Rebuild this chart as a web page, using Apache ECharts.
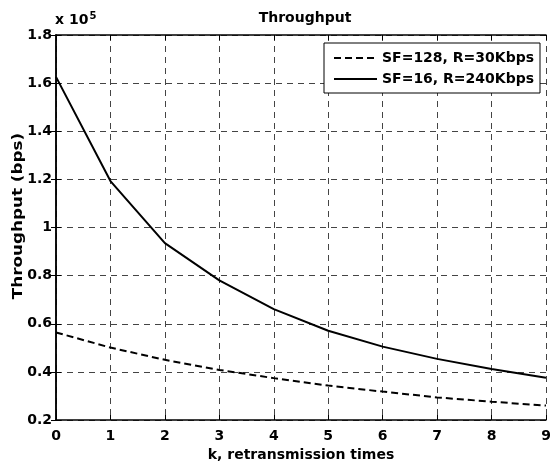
<!DOCTYPE html>
<html><head><meta charset="utf-8">
<script src="https://cdn.jsdelivr.net/npm/echarts@6/dist/echarts.min.js"></script>
<style>html,body{margin:0;padding:0;background:#fff}#c{width:550px;height:463px}</style>
</head><body><div id="c"></div>
<script>
const kValues = [0,1,2,3,4,5,6,7,8,9];
const sf128 = [56400,50100,45000,40800,37400,34300,31800,29400,27600,26000];
const sf16 = [162600,119300,93500,78000,66100,57100,50500,45400,41200,37600];
const seriesNames = ['SF=128, R=30Kbps','SF=16, R=240Kbps'];
const yTicks = [20000,40000,60000,80000,100000,120000,140000,160000,180000];

const FONT = '"DejaVu Sans", sans-serif';
const chart = echarts.init(document.getElementById('c'));
const pair = (arr) => kValues.map((k,i)=>[k,arr[i]]);
const gridX = {type:[6,5], color:'#444', width:1};
chart.setOption({
  animation:false,
  backgroundColor:'#fff',
  title:{text:'Throughput', left:300, top:6, textAlign:'center',
    textStyle:{fontFamily:FONT, fontWeight:'bold', fontSize:14, color:'#000'}},
  grid:{left:56, right:4, top:35, bottom:43, outerBoundsMode:'none', containLabel:false},
  legend:{
    orient:'vertical', left:324, top:43, padding:[8,6,7,9], itemGap:7,
    itemWidth:43, itemHeight:14, borderColor:'#000', borderWidth:1, backgroundColor:'#fff',
    itemStyle:{opacity:0},
    textStyle:{fontFamily:FONT, fontWeight:'bold', fontSize:14, color:'#000'},
    data:seriesNames
  },
  xAxis:[{
    type:'value', min:0, max:9, interval:1,
    name:'k, retransmission times', nameLocation:'middle', nameGap:27,
    nameTextStyle:{fontFamily:FONT, fontWeight:'bold', fontSize:14, color:'#000'},
    axisLine:{lineStyle:{color:'#000', width:1.5}},
    axisTick:{inside:true, length:5, lineStyle:{color:'#000'}},
    axisLabel:{fontFamily:FONT, fontWeight:'bold', fontSize:14, color:'#000', margin:9},
    splitLine:{show:true, lineStyle:gridX}
  },{
    type:'value', min:0, max:9, interval:1, position:'top',
    axisLine:{lineStyle:{color:'#000', width:1.5}},
    axisTick:{inside:true, length:5, lineStyle:{color:'#000'}},
    axisLabel:{show:false}, splitLine:{show:false}
  }],
  yAxis:[{
    type:'value', min:20000, max:180000, interval:20000,
    axisLine:{show:true, lineStyle:{color:'#000', width:1.5}},
    axisTick:{show:true, inside:true, length:5, lineStyle:{color:'#000'}},
    axisLabel:{fontFamily:FONT, fontWeight:'bold', fontSize:14, color:'#000', margin:4,
      formatter:(v)=>String(+(v/1e5).toFixed(1))},
    splitLine:{show:true, lineStyle:gridX}
  },{
    type:'value', min:20000, max:180000, interval:20000, position:'right',
    axisLine:{show:true, lineStyle:{color:'#000', width:1.5}},
    axisTick:{show:true, inside:true, length:5, lineStyle:{color:'#000'}},
    axisLabel:{show:false}, splitLine:{show:false}
  }],
  graphic:[{
    type:'text', left:55, top:11,
    style:{text:'{a|x 10}{b|5}', fill:'#000',
      rich:{a:{fontFamily:FONT, fontWeight:'bold', fontSize:14},
            b:{fontFamily:FONT, fontWeight:'bold', fontSize:10, verticalAlign:'top', padding:[0,0,8,1]}}}
  },{
    type:'text', x:19, y:216, rotation:Math.PI/2, scaleX:1.2, scaleY:0.95,
    style:{text:'Throughput (bps)', fill:'#000', fontFamily:FONT, fontWeight:'bold', fontSize:14,
      align:'center', verticalAlign:'middle'}
  }],
  series:[{
    name:seriesNames[0], type:'line', data:pair(sf128), symbol:'none', smooth:false,
    lineStyle:{color:'#000', width:2, type:[7,4]}, itemStyle:{color:'#000'}
  },{
    name:seriesNames[1], type:'line', data:pair(sf16), symbol:'none', smooth:false,
    lineStyle:{color:'#000', width:2, type:'solid'}, itemStyle:{color:'#000'}
  }]
});
</script></body></html>
